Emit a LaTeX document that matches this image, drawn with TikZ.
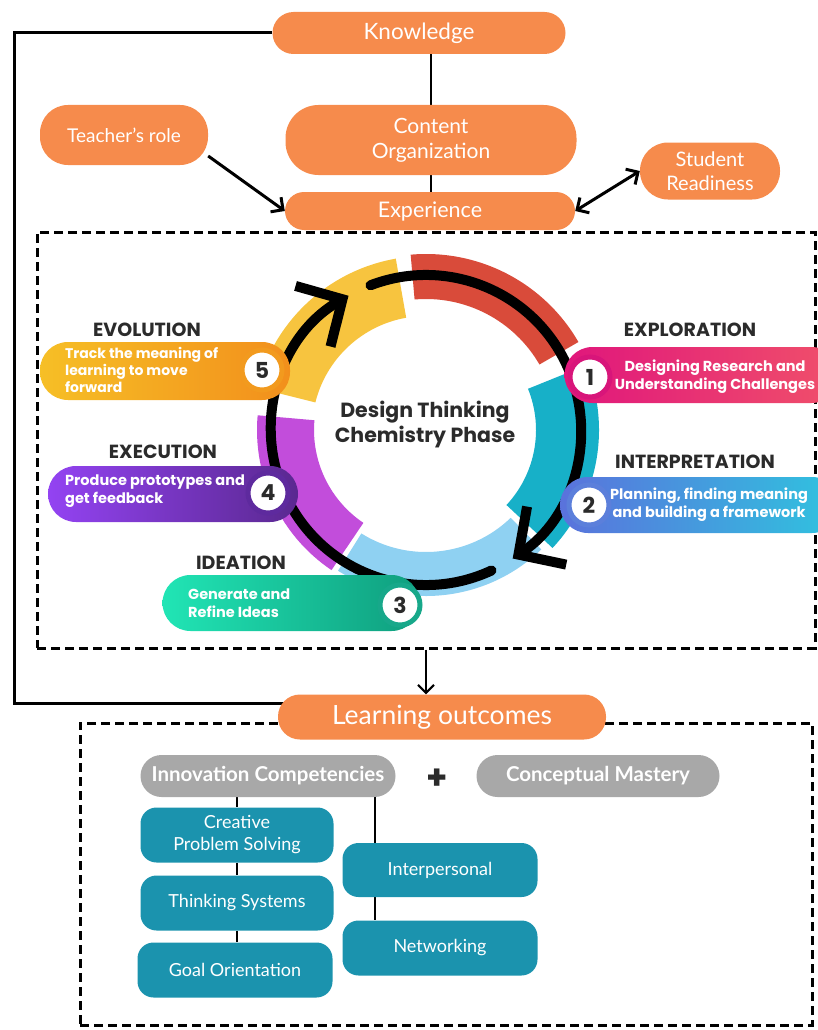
\documentclass[tikz,border=0pt]{standalone}
\usepackage{fontspec}
\setmainfont{Lato}
\newfontfamily\popf{Poppins}
\usetikzlibrary{arrows.meta,calc,backgrounds}
\definecolor{orng}{HTML}{F68B4C}
\definecolor{gry}{HTML}{A8A8A8}
\definecolor{tealbox}{HTML}{1B93AE}
\definecolor{ttl}{HTML}{2B2B2B}
\definecolor{segred}{HTML}{D94B3A}
\definecolor{segteal}{HTML}{17B0C8}
\definecolor{segblue}{HTML}{8FD1F2}
\definecolor{segpurp}{HTML}{C24DDB}
\definecolor{segyel}{HTML}{F7C43F}
\definecolor{pA1}{HTML}{E0167C}\definecolor{pA2}{HTML}{F0506A}
\definecolor{pB1}{HTML}{5A72DC}\definecolor{pB2}{HTML}{2FC4DF}
\definecolor{pC1}{HTML}{21E5B5}\definecolor{pC2}{HTML}{0F9E7E}
\definecolor{pD1}{HTML}{9343F2}\definecolor{pD2}{HTML}{5A2890}
\definecolor{pE1}{HTML}{F6BF26}\definecolor{pE2}{HTML}{F28F1C}
\definecolor{bA}{HTML}{D8157A}
\definecolor{bB}{HTML}{5B7FDB}
\definecolor{bC}{HTML}{17A88A}
\definecolor{bD}{HTML}{5E2A9E}
\definecolor{bE}{HTML}{F29A1E}
\begin{document}
\begin{tikzpicture}[x=1pt,y=-1pt,
  obox/.style={fill=orng, text=white, align=center, inner sep=0pt, rounded corners=#1},
  obox/.default=20pt,
  dbox/.style={draw=black, line width=3pt, dash pattern=on 9pt off 5pt, inner sep=0pt},
  conn/.style={draw=black, line width=3pt},
  gbox/.style={fill=gry, text=white, inner sep=0pt, rounded corners=21pt, minimum height=42pt, font=\fontsize{20.5}{22}\selectfont\bfseries},
  tbox/.style={fill=tealbox, text=white, inner sep=0pt, rounded corners=16pt, align=center, minimum width=194pt, minimum height=55pt, font=\fontsize{18}{22}\selectfont},
  pill/.style={inner sep=0pt, rounded corners=28pt, minimum height=56pt},
  ptext/.style={text=white, font=\popf\bfseries\fontsize{14.5}{18}\selectfont, inner sep=0pt},
  ttext/.style={text=ttl, font=\popf\bfseries\fontsize{19}{22}\selectfont, inner sep=0pt},
  badge/.style={circle, fill=white, draw=#1, line width=5pt, minimum size=40pt, inner sep=0pt, font=\popf\bfseries\fontsize{22}{24}\selectfont, text=ttl},
  barb/.style={-{Straight Barb[length=9pt,width=18pt]}},
]
\useasboundingbox (0,0) rectangle (818,1030);

% ---------- top orange boxes ----------
\node[obox=21pt, minimum width=293pt, minimum height=42pt, font=\fontsize{22.5}{25}\selectfont] (know) at (419,33) {Knowledge};
\node[obox=33pt, minimum width=291pt, minimum height=70pt, font=\fontsize{21}{25}\selectfont] (co) at (431,140) {Content\\Organization};
\node[obox=19pt, minimum width=290pt, minimum height=38pt, font=\fontsize{21.5}{24}\selectfont] (exp) at (430,211) {Experience};
\node[obox=28pt, minimum width=168pt, minimum height=60pt, font=\fontsize{19}{22}\selectfont] (tr) at (124,135) {Teacher's role};
\node[obox=28pt, minimum width=140pt, minimum height=57pt, font=\fontsize{20}{24}\selectfont] (sr) at (710,171) {Student\\Readiness};

% ---------- dashed frames ----------
\node[dbox, minimum width=778pt, minimum height=416pt] (box1) at (426,440) {};
\node[dbox, minimum width=732pt, minimum height=302pt] (box2) at (446,874) {};

\node[obox=22pt, minimum width=328pt, minimum height=45pt, font=\fontsize{26.5}{28}\selectfont] (lo) at (442,717) {Learning outcomes};

% ---------- ring ----------
\begin{scope}[shift={(426,430)},yscale=-1]
  \fill[segred] (30:176) arc[start angle=30,end angle=95,radius=176] -- (95:131) arc[start angle=95,end angle=30,radius=131] -- cycle;
  \fill[segteal] (-43:173) arc[start angle=-43,end angle=22,radius=173] -- (22:110) arc[start angle=22,end angle=-43,radius=110] -- cycle;
  \fill[segblue] (-122:166) arc[start angle=-122,end angle=-46,radius=166] -- (-46:122) arc[start angle=-46,end angle=-122,radius=122] -- cycle;
  \fill[segpurp] (175:169) arc[start angle=175,end angle=236,radius=169] -- (236:112) arc[start angle=236,end angle=175,radius=112] -- cycle;
  \fill[segyel] (100:174) arc[start angle=100,end angle=166,radius=174] -- (166:114) arc[start angle=166,end angle=100,radius=114] -- cycle;
  \draw[line width=10pt, line cap=round, -{Straight Barb[length=34pt,width=70pt]}] (111:155) arc[start angle=111,end angle=-56,radius=155];
  \draw[line width=10pt, line cap=round, -{Straight Barb[length=34pt,width=70pt]}] (-65:155) arc[start angle=-65,end angle=-240,radius=155];
\end{scope}

\node[ttext, align=center, font=\popf\bfseries\fontsize{20.5}{25}\selectfont] (ctr) at (425,425) {Design Thinking\\Chemistry Phase};

% ---------- phase pills ----------
\node[pill, left color=pA1, right color=pA2, minimum width=275pt] (p1) at (702,375) {};
\node[pill, left color=pB1, right color=pB2, minimum width=280pt] (p2) at (700,505) {};
\node[pill, left color=pC1, right color=pC2, minimum width=257pt] (p3) at (291,603) {};
\node[pill, left color=pD1, right color=pD2, minimum width=250pt] (p4) at (173,494) {};
\node[pill, left color=pE1, right color=pE2, minimum width=250pt, minimum height=58pt] (p5) at (165,371) {};

\node[badge=bA] (b1) at (590,377) {1};
\node[badge=bB] (b2) at (589,505) {2};
\node[badge=bC] (b3) at (400,605) {3};
\node[badge=bD] (b4) at (268,493) {4};
\node[badge=bE] (b5) at (262,370) {5};

\node[ptext, align=center] (t1) at (715,377) {Designing Research and\\Understanding Challenges};
\node[ptext, align=center] (t2) at (709,505) {Planning, finding meaning\\and building a framework};
\node[ptext, align=left, anchor=west] (t3) at (188,603) {Generate and\\Refine Ideas};
\node[ptext, align=left, anchor=west] (t4) at (65,491) {Produce prototypes and\\get feedback};
\node[ptext, align=left, anchor=west, font=\popf\bfseries\fontsize{14}{17}\selectfont] (t5) at (65,370) {Track the meaning of\\learning to move\\forward};

\node[ttext] (h1) at (690,330) {EXPLORATION};
\node[ttext] (h2) at (695,462) {INTERPRETATION};
\node[ttext] (h3) at (241,563) {IDEATION};
\node[ttext] (h4) at (163,452) {EXECUTION};
\node[ttext] (h5) at (147,330) {EVOLUTION};

% ---------- bottom ----------
\node[gbox, minimum width=255pt] (ic) at (268,776) {Innovation Competencies};
\node[text=ttl, font=\popf\bfseries\fontsize{34}{34}\selectfont, inner sep=0pt] (plus) at (437,779) {+};
\node[gbox, minimum width=243pt] (cm) at (598,776) {Conceptual Mastery};
\node[tbox, minimum width=193pt] (cps) at (237,835) {Creative\\Problem Solving};
\node[tbox, minimum width=193pt] (ts) at (237,903) {Thinking Systems};
\node[tbox, minimum width=195pt] (go) at (235,970) {Goal Orientation};
\node[tbox, minimum width=195pt, minimum height=54pt] (ip) at (440,870) {Interpersonal};
\node[tbox, minimum width=195pt] (nw) at (440,948) {Networking};

\coordinate (fb1) at (14,33);
\coordinate (fb2) at (14,703);
\coordinate (lol) at ($(lo.west)+(10,-14)$);
\coordinate (ipt) at ($(ip.north west)+(33,0)$);
\coordinate (ipb) at ($(ip.south west)+(33,0)$);

% ---------- connectors ----------
\begin{scope}[on background layer]
  \draw[conn] (know.west) -- (know.west -| fb1) -- (fb2) -- (lol);
  \draw[line width=2.5pt] (co.north |- know.south) -- (co.north);
  \draw[line width=2.5pt] (co.south) -- (co.south |- exp.north);
  \draw[line width=2pt] (cps.north |- ic.south) -- (cps.north);
  \draw[line width=2pt] (cps.south) -- (ts.north);
  \draw[line width=2pt] (ts.south) -- (ts.south |- go.north);
  \draw[line width=2pt] (ipt) -- (ipt |- ic.south);
  \draw[line width=2pt] (ipb) -- (ipb |- nw.north);
\end{scope}
\draw[conn, barb] (tr.-14) -- (exp.west);
\draw[conn, {Straight Barb[length=9pt,width=18pt]}-{Straight Barb[length=9pt,width=18pt]}] (exp.east) -- (sr.west);
\draw[line width=2pt, -{Straight Barb[length=8pt,width=16pt]}] (box1.south) -- (box1.south |- lo.north);
\end{tikzpicture}
\end{document}
